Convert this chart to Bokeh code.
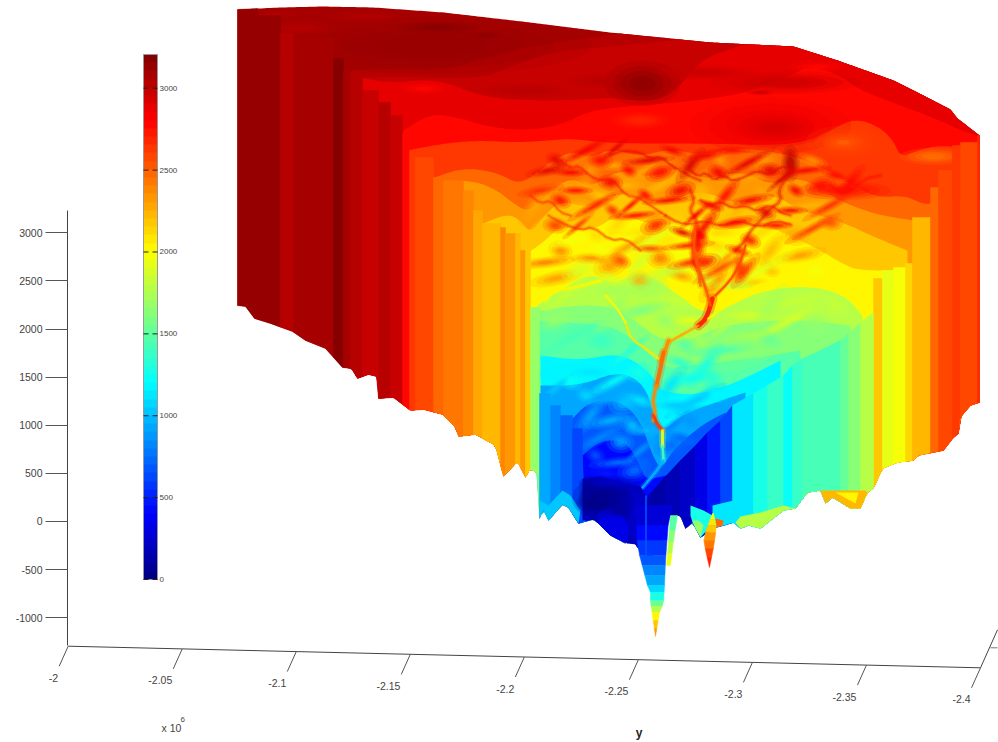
import numpy as np
from bokeh.plotting import figure
from bokeh.models import (ColumnDataSource, Range1d, LinearAxis, FixedTicker, ColorBar,
                          LinearColorMapper)
from bokeh.core.properties import value
from bokeh.embed import file_html
from bokeh.resources import INLINE

# ---------- axis values ----------
z_ticks = [-1000, -500, 0, 500, 1000, 1500, 2000, 2500, 3000]
y_ticks = [-2.0, -2.05, -2.1, -2.15, -2.2, -2.25, -2.3, -2.35, -2.4]
y_labels = ["-2", "-2.05", "-2.1", "-2.15", "-2.2", "-2.25", "-2.3", "-2.35", "-2.4"]
cb_ticks = [0, 500, 1000, 1500, 2000, 2500, 3000]
VMAX = 3206

# ---------- surface, in grid column / row units ----------
sil_top_col = [237, 280, 323, 373, 443, 530, 610, 710, 793, 837, 893, 917, 950, 957, 970, 979]
sil_top_row = [9, 7, 6, 7, 12, 22, 32, 42, 46, 60, 80, 92, 109, 118, 128, 135]
sil_bot_col = [237, 245, 254, 270, 292, 305, 325, 342, 351, 357, 368, 376, 378, 393, 410, 423, 442, 455, 458,
               475, 495, 498, 503, 517, 525, 530, 538, 539, 543, 548, 562, 568, 578, 593, 598, 610, 625, 628,
               637, 648, 664, 668, 680, 685, 692, 700, 715, 723, 733, 740, 748, 760, 783, 795, 807, 820, 825,
               832, 850, 860, 867, 873, 882, 897, 913, 918, 943, 953, 958, 959, 970, 979]
sil_bot_row = [305, 306, 318, 323, 331, 340, 348, 367, 368, 378, 374, 376, 398, 397, 410, 409, 414, 427, 436,
               434, 445, 457, 476, 461, 477, 468, 474, 518, 509, 520, 504, 507, 523, 519, 523, 535, 543, 533,
               547, 560, 540, 515, 515, 528, 522, 537, 527, 525, 522, 528, 525, 528, 510, 508, 492, 490, 503,
               497, 508, 508, 492, 488, 468, 462, 460, 455, 450, 437, 433, 418, 405, 402]

strip_left = [237, 257, 280, 293, 333, 343, 350, 362, 378, 390, 402, 409, 415, 433, 443, 463, 473, 482, 500, 505,
              515, 520, 525, 530, 539, 550, 560, 572,
              873, 882, 893, 905, 912, 930, 938, 952, 960, 977]
strip_right = [257, 280, 293, 333, 343, 350, 362, 378, 390, 402, 409, 415, 433, 443, 463, 473, 482, 500, 505, 515,
               520, 525, 530, 539, 550, 560, 572, 582,
               882, 893, 905, 912, 930, 938, 952, 960, 977, 979]
strip_val = [3110, 3120, 3040, 3105, 3160, 3095, 3010, 2960, 3040, 2990, 2800, 2650, 2600, 2500, 2420, 2380, 2300,
             2230, 2400, 2330, 2250, 2330, 2200, 1680, 950, 850, 720, 620,
             2200, 1930, 1980, 2130, 2230, 2480, 2560, 2620, 2560, 2680]
strip_top = [0, 15, 33, 37, 58, 70, 75, 90, 102, 115, 133, 150, 157, 177, 180, 190, 210, 223, 227, 233, 233, 250,
             250, 307, 393, 405, 415, 428,
             278, 270, 267, 263, 217, 187, 170, 145, 142, 135]

wedge_edge = [648, 665, 680, 695, 707, 720, 732, 753, 767, 783, 792, 802, 820, 840, 848, 860, 873]
wedge_top = [495, 476, 460, 445, 432, 420, 405, 393, 385, 375, 365, 358, 350, 340, 333, 322, 312]
wedge_val = [120, 170, 250, 350, 500, 650, 1150, 1300, 1380, 1230, 1370, 1420, 1420, 1520, 1620, 1800]

base_val = 3100
level_val = [3050, 2980, 2880, 2780, 2650, 2500, 2350, 2200, 2050, 1800, 1650, 1500, 1200, 950, 700, 450]
level_col = [
    [338, 400, 440, 470, 500, 540, 600, 640, 700, 979],
    [345, 400, 460, 490, 500, 520, 560, 610, 650, 690, 760, 979],
    [352, 387, 437, 483, 530, 563, 610, 630, 660, 680, 700, 730, 760, 840, 979],
    [400, 430, 457, 490, 530, 563, 583, 610, 677, 710, 743, 790, 810, 840, 860, 900, 940, 960, 979],
    [407, 443, 477, 517, 550, 570, 610, 710, 777, 810, 830, 853, 877, 893, 900, 917, 937, 963, 979],
    [431, 463, 497, 520, 545, 570, 590, 610, 640, 670, 700, 735, 780, 820, 860, 880, 905, 925, 940, 979],
    [441, 473, 497, 513, 528, 545, 570, 590, 620, 650, 680, 700, 740, 770, 800, 830, 850, 880, 914],
    [480, 507, 520, 530, 545, 560, 590, 620, 660, 700, 735, 770, 800, 820, 850, 870, 907],
    [528, 545, 560, 590, 620, 660, 700, 730, 760, 800, 820, 845, 860, 907],
    [532, 545, 560, 590, 615, 640, 680, 700, 725, 760, 810, 845, 862],
    [532, 570, 610, 635, 660, 690, 720, 770, 810, 850],
    [530, 570, 610, 635, 655, 670, 690, 720, 770, 800],
    [540, 580, 620, 650, 660, 672, 690, 730, 780],
    [540, 580, 620, 645, 655, 665, 680, 720, 745],
    [570, 590, 620, 640, 650, 660, 672, 700, 725],
    [582, 600, 625, 640, 645, 665, 690],
]
level_row = [
    [70, 68, 70, 62, 52, 44, 36, 30, 20, 20],
    [78, 76, 78, 75, 70, 62, 50, 46, 42, 38, 25, 20],
    [75, 83, 78, 97, 100, 100, 97, 100, 100, 85, 60, 48, 40, 40, 100],
    [132, 113, 117, 127, 130, 123, 113, 107, 102, 98, 93, 75, 65, 75, 90, 105, 120, 130, 136],
    [150, 143, 140, 142, 140, 138, 143, 143, 145, 140, 130, 118, 125, 140, 157, 150, 145, 147, 143],
    [178, 167, 172, 185, 165, 150, 158, 148, 156, 148, 155, 147, 152, 165, 190, 197, 195, 205, 200, 200],
    [181, 180, 190, 203, 212, 195, 176, 188, 168, 178, 165, 180, 170, 185, 176, 195, 205, 215, 220],
    [224, 213, 220, 233, 214, 200, 208, 190, 205, 188, 205, 192, 210, 215, 225, 235, 250],
    [252, 240, 225, 232, 212, 228, 214, 232, 222, 240, 250, 265, 270, 270],
    [310, 298, 290, 272, 285, 268, 296, 312, 308, 290, 285, 295, 315],
    [312, 305, 305, 320, 340, 340, 325, 320, 320, 325],
    [320, 322, 325, 340, 360, 368, 365, 362, 355, 350],
    [355, 360, 352, 372, 390, 392, 395, 385, 360],
    [385, 385, 370, 385, 420, 430, 415, 400, 392],
    [420, 400, 400, 420, 450, 470, 450, 425, 412],
    [455, 440, 440, 465, 480, 475, 470],
]

# broad highs and lows on the upper surface
broad_col = [437, 485, 430, 300, 275, 365, 600, 525, 620, 642, 700, 785, 760, 775, 770, 527, 490, 423, 640, 843, 843,
             933, 817, 843, 790, 697, 740]
broad_row = [27, 35, 45, 28, 14, 16, 80, 90, 40, 83, 72, 82, 92, 127, 125, 117, 107, 88, 120, 142, 142,
             156, 66, 190, 163, 243, 267]
broad_w = [45, 18, 170, 40, 25, 40, 35, 48, 30, 40, 60, 80, 15, 40, 85, 50, 40, 24, 30, 40, 20,
           36, 30, 50, 10, 10, 9]
broad_h = [7, 4, 30, 8, 3, 5, 8, 7, 5, 24, 8, 12, 3, 14, 30, 12, 8, 6, 9, 18, 8,
           9, 6, 10, 20, 26, 22]
broad_val = [3170, 3170, 3140, 3040, 3040, 3040, 3030, 3030, 3050, 3160, 3000, 2960, 3000, 3040, 2900, 2900, 2880,
             2780, 2660, 2570, 2480, 2430, 2780, 2800, 3060, 2780, 2680]

# small mottling: (col, row, value)
spot_red = [(548, 170, 2880), (556, 160, 2900), (570, 172, 2820), (585, 150, 2850), (600, 160, 2780), (615, 148, 2880),
            (628, 170, 2800), (648, 160, 2900), (660, 172, 2780), (672, 150, 2850), (690, 165, 2920), (705, 155, 2820),
            (718, 172, 2850), (732, 150, 2800), (748, 162, 2880), (770, 170, 2880), (782, 178, 2950), (795, 190, 2820),
            (805, 170, 2820), (820, 185, 2780), (835, 175, 2800), (850, 182, 2780), (540, 190, 2700), (560, 200, 2760),
            (575, 190, 2800), (595, 205, 2720), (610, 182, 2850), (630, 205, 2760), (645, 195, 2800), (668, 200, 2820),
            (680, 190, 2850), (710, 205, 2850), (725, 195, 2780), (750, 200, 2820), (765, 212, 2900), (790, 210, 2850),
            (830, 205, 2700), (555, 225, 2650), (578, 225, 2620), (612, 210, 2700), (635, 215, 2780), (655, 225, 2720),
            (682, 232, 2880), (705, 225, 2850), (735, 222, 2780), (750, 240, 2720), (775, 225, 2780), (812, 228, 2650),
            (830, 222, 2600), (695, 215, 2850), (700, 235, 2820), (688, 245, 2750), (705, 262, 2720), (738, 250, 2700),
            (745, 270, 2650), (690, 262, 2680), (620, 260, 2600), (650, 248, 2560), (720, 268, 2600)]
spot_orange = [(572, 160, 2400), (590, 170, 2350), (612, 165, 2300), (640, 172, 2300), (665, 163, 2350), (695, 180, 2350),
               (720, 160, 2350), (745, 178, 2300), (765, 160, 2350), (812, 160, 2350), (535, 205, 2300), (555, 190, 2300),
               (585, 185, 2300), (625, 185, 2250), (660, 185, 2250), (700, 190, 2250), (738, 210, 2250), (760, 192, 2300),
               (810, 205, 2250), (575, 210, 2200), (600, 195, 2200), (620, 220, 2150), (650, 210, 2200), (675, 220, 2150),
               (720, 232, 2150), (760, 232, 2150), (795, 235, 2300), (542, 222, 2200), (595, 235, 2150), (640, 232, 2100),
               (665, 240, 2100), (715, 245, 2120), (770, 250, 2250), (800, 255, 2350), (560, 250, 2400), (590, 258, 2400),
               (630, 245, 2350), (660, 258, 2450), (725, 258, 2350), (770, 268, 2300), (545, 262, 2450), (610, 265, 2350),
               (680, 275, 2350), (715, 282, 2400), (555, 278, 2350), (640, 280, 2300), (750, 282, 2200)]
spot_light = [(570, 240, 2000), (600, 248, 2000), (625, 238, 1980), (650, 240, 1950), (680, 252, 2000), (715, 258, 1950),
              (745, 258, 2000), (790, 265, 2050), (580, 270, 1900), (610, 278, 1880), (640, 262, 1900), (665, 272, 1850),
              (705, 278, 1900), (735, 285, 1850), (760, 270, 1950), (815, 270, 2000), (565, 295, 1850), (590, 292, 1800),
              (620, 290, 1750), (650, 288, 1750), (675, 300, 1850), (770, 305, 1750), (800, 300, 1850), (835, 305, 1850),
              (745, 315, 1900), (785, 322, 1900), (815, 322, 1700), (725, 325, 1800), (700, 340, 1750), (750, 335, 1750),
              (555, 320, 1700), (580, 315, 1650), (610, 315, 1650), (640, 310, 1600), (665, 320, 1700), (690, 320, 1950),
              (570, 338, 1450), (600, 340, 1400), (630, 350, 1350), (685, 345, 1500), (720, 350, 1450), (760, 350, 1650),
              (680, 362, 1350), (705, 365, 1300), (735, 365, 1550), (770, 340, 1550)]
spot_blue = [(555, 372, 1200), (570, 380, 1250), (590, 372, 1150), (615, 380, 1250), (638, 372, 1300), (555, 388, 1050),
             (585, 395, 1100), (605, 400, 950), (625, 402, 1050), (640, 400, 1150), (590, 415, 950), (610, 420, 1000),
             (632, 425, 1050), (645, 430, 1000), (600, 437, 850), (620, 442, 950), (640, 450, 900), (595, 455, 700),
             (618, 462, 800), (634, 470, 800), (606, 473, 500), (670, 385, 1150), (690, 378, 1250), (712, 378, 1350),
             (675, 405, 1050), (695, 400, 1050), (715, 392, 1200), (672, 425, 850), (690, 420, 900), (705, 410, 950),
             (670, 445, 750), (682, 438, 750)]
spot_scale_w = [1.5, 0.7, 1.1, 2.0, 0.8, 1.3, 0.6, 1.7, 1.0, 0.9, 1.4]
spot_scale_h = [0.9, 1.2, 0.7, 0.8, 1.3, 0.6, 1.0, 0.7, 1.4, 0.8, 1.1]
spot_angle = [0.2, -0.4, 0.0, 0.5, -0.1, 0.7, -0.6, 0.1, 0.3, -0.3, 0.9]

# veins of high ground through the mottled band
vein_val = [2860, 2880, 2840, 2840, 2900, 2820, 2800, 2720, 2720, 2780]
vein_width = [2.2, 2.2, 2.2, 2.2, 3, 3, 2, 2, 2, 2.5]
vein_col = [[690, 698, 705, 714, 722, 733, 745, 757, 770, 780, 790],
            [610, 622, 640, 650, 660, 672, 680, 690, 700],
            [700, 710, 720, 732, 745, 757, 770, 780, 790],
            [665, 677, 690, 705, 720, 738, 760, 775, 790],
            [790, 788, 793, 784, 778, 781, 768, 760, 750, 745, 735],
            [690, 694, 689, 696, 697, 692, 693, 698, 700],
            [560, 570, 578, 590, 600, 612, 625, 638, 650, 665],
            [530, 540, 550, 560, 570],
            [548, 560, 580, 592, 610, 625, 640],
            [830, 840, 850, 865, 880]]
vein_row = [[170, 176, 172, 180, 174, 181, 176, 170, 175, 166, 168],
            [155, 150, 152, 158, 156, 166, 170, 176, 180],
            [200, 205, 201, 208, 205, 211, 204, 212, 215],
            [215, 222, 224, 220, 226, 220, 227, 220, 224],
            [153, 162, 170, 180, 190, 200, 210, 220, 230, 240, 250],
            [190, 200, 210, 218, 240, 250, 262, 272, 285],
            [160, 168, 165, 176, 180, 178, 195, 197, 205, 215],
            [195, 203, 200, 212, 215],
            [215, 222, 230, 226, 240, 238, 250],
            [185, 192, 190, 178, 175]]

ridge_val = [2750, 2300, 2400, 2500, 2400, 2650, 1950, 1450, 1000, 2100, 2050, 2550, 2600, 2050, 2050]
ridge_width = [4.5, 2, 3.5, 4, 3, 3, 3, 2.5, 2.5, 1.6, 2.5, 2.5, 2, 2.5, 1.6]
ridge_col = [[712, 706, 698], [698, 680, 668], [668, 664, 660], [663, 660, 656], [656, 652, 655, 653],
             [653, 657, 662], [662, 662], [662, 663], [663, 655, 642], [625, 630, 645, 658],
             [708, 725, 742, 760, 800, 835], [710, 706, 697, 693, 695], [715, 730, 740, 745],
             [545, 552, 575, 600], [625, 617, 605]]
ridge_row = [[298, 318, 325], [325, 335, 342], [340, 352, 360], [352, 368, 385], [385, 400, 412, 420],
             [415, 424, 430], [430, 445], [445, 460], [460, 472, 487], [322, 338, 348, 358],
             [318, 305, 295, 283, 278, 285], [305, 290, 265, 250, 225], [295, 280, 262, 245],
             [300, 290, 287, 280], [322, 308, 295]]

funnel_val = [170, 230, 330, 1050, 1800, 1300, 1700, 1150, 2500, 2250, 2050]
funnel_col = [[582, 600, 620, 640, 648, 645, 627, 610, 598, 593, 582],
              [628, 647, 647, 637, 628],
              [597, 615, 628, 627, 610, 598],
              [539, 548, 562, 570, 580, 578, 568, 562, 548, 543, 539],
              [735, 740, 760, 783, 795, 783, 760, 748, 740],
              [690, 703, 712, 706, 700, 692, 690],
              [692, 698, 703, 700, 695],
              [712, 733, 733, 723, 715, 712],
              [715, 723, 722, 716],
              [820, 865, 867, 860, 850, 832, 825],
              [835, 858, 855]]
funnel_row = [[478, 476, 482, 486, 500, 545, 543, 535, 523, 519, 520],
              [486, 497, 548, 547, 533],
              [512, 505, 525, 543, 535, 523],
              [500, 505, 490, 495, 510, 523, 507, 504, 520, 509, 518],
              [522, 516, 512, 505, 508, 510, 528, 525, 528],
              [505, 510, 515, 530, 537, 522, 515],
              [520, 520, 525, 537, 528],
              [505, 500, 522, 525, 527, 515],
              [518, 520, 525, 527],
              [490, 490, 492, 508, 508, 497, 503],
              [492, 492, 503]]
deep_col = [600, 592, 612, 618, 588, 625, 612]
deep_row = [498, 503, 496, 510, 490, 500, 482]
deep_w = [30, 18, 14, 12, 10, 10, 36]
deep_h = [22, 10, 14, 8, 16, 20, 8]
deep_val = [40, 10, 60, 100, 100, 130, 250]

spike_rows = [[505, 525, 540, 555, 565, 575, 585, 592, 600, 606, 612, 620, 628, 636],
              [515, 530, 542, 553, 565],
              [513, 519, 525, 532, 540, 548, 557, 567]]
spike_vals = [[300, 420, 560, 700, 820, 950, 1100, 1300, 1550, 1800, 2050, 2200, 2350],
              [1500, 1650, 1800, 1950],
              [2000, 2100, 2200, 2320, 2450, 2560, 2680]]
spike_left_col = [[635, 637, 647, 650, 650, 652, 655], [670, 668, 666], [712, 703, 705, 709]]
spike_left_row = [[505, 547, 585, 590, 602, 615, 636], [515, 540, 565], [513, 537, 550, 567]]
spike_right_col = [[672, 668, 665, 664, 663, 659, 655], [677, 673, 670], [713, 716, 713, 709]]
spike_right_row = [[505, 520, 560, 585, 603, 612, 636], [515, 540, 565], [513, 527, 547, 567]]

thin_col = [645.5, 645.5]
thin_row = [495, 557]


# ---------- helpers ----------
def jet(n=64):
    out = []
    for i in range(n):
        x = (i + 0.5) / n
        r = np.clip(min(4 * x - 1.5, -4 * x + 4.5), 0, 1)
        g = np.clip(min(4 * x - 0.5, -4 * x + 3.5), 0, 1)
        b = np.clip(min(4 * x + 0.5, -4 * x + 2.5), 0, 1)
        out.append("#%02x%02x%02x" % (int(r * 255), int(g * 255), int(b * 255)))
    return out


def top_at(c):
    return np.interp(c, sil_top_col, sil_top_row)


def bot_at(c):
    return np.interp(c, sil_bot_col, sil_bot_row)


def chaikin(c, r, n=3):
    pts = np.column_stack([c, r]).astype(float)
    for _ in range(n):
        q = 0.75 * pts[:-1] + 0.25 * pts[1:]
        s = 0.25 * pts[:-1] + 0.75 * pts[1:]
        mid = np.empty((2 * len(q), 2))
        mid[0::2] = q
        mid[1::2] = s
        pts = np.vstack([pts[0], mid, pts[-1]])
    return pts[:, 0], pts[:, 1]


def densify(c, r, step=2.0):
    d = np.r_[0, np.cumsum(np.hypot(np.diff(c), np.diff(r)))]
    t = np.arange(0, d[-1] + step, step)
    return np.interp(t, d, c), np.interp(t, d, r)


def level_poly(c, r):
    cs, rs = chaikin(c, r)
    cs, rs = densify(cs, rs)
    cs = np.clip(cs, 237, 979)
    rs = np.minimum(np.maximum(rs, top_at(cs)), bot_at(cs))
    back = np.arange(cs[-1], cs[0], -3.0)
    return list(cs) + list(back), list(rs) + list(bot_at(back))


def strip_poly(l, rt, top_l, top_r):
    inner = [c for c in sil_bot_col if l < c < rt]
    xs = [l, rt, rt] + inner[::-1] + [l]
    ys = [max(top_l, top_at(l)), max(top_r, top_at(rt)), bot_at(rt)] + [bot_at(c) for c in inner[::-1]] + [bot_at(l)]
    return xs, ys


def col_of(y):
    return 67.7 + (-2.0 - np.asarray(y)) / 0.4 * 912.3


def row_of(y):
    return 645.7 + (-2.0 - np.asarray(y)) / 0.4 * 21.6


JET = jet()
mapper = LinearColorMapper(palette=JET, low=0, high=VMAX)
cmap = {"field": "v", "transform": mapper}


def soft_blobs(fig, col, row, w, h, val, layers, angle=None):
    w = np.asarray(w, float)
    h = np.asarray(h, float)
    ang = list(angle) if angle is not None else [0.0] * len(w)
    for scale, alpha in layers:
        src = ColumnDataSource(dict(x=list(col), y=list(row), w=list(w * scale), h=list(h * scale), v=list(val), a=ang))
        fig.ellipse("x", "y", width="w", height="h", angle="a", source=src, fill_color=cmap, fill_alpha=alpha,
                    line_color=None)


def lines(fig, cols, rows, vals, widths, a_wide, a_core, smooth):
    xs, ys = zip(*[chaikin(c, r, smooth) if len(c) > 2 else (np.array(c, float), np.array(r, float))
                   for c, r in zip(cols, rows)])
    src = ColumnDataSource(dict(x=[list(a) for a in xs], y=[list(a) for a in ys], v=vals, w=widths,
                                w2=[a * 2.2 for a in widths]))
    fig.multi_line("x", "y", source=src, line_color=cmap, line_width="w2", line_alpha=a_wide, line_cap="round",
                   line_join="round")
    fig.multi_line("x", "y", source=src, line_color=cmap, line_width="w", line_alpha=a_core, line_cap="round",
                   line_join="round")


# ---------- figure ----------
PX_PER_Z = 0.0962
z_low = 3000 - (742 - 232.3) / PX_PER_Z
z_high = 3000 + 232.3 / PX_PER_Z
p = figure(width=998, height=742, x_range=Range1d(0, 998), y_range=Range1d(742, 0),
           output_backend="svg", toolbar_location=None, x_axis_location=None, y_axis_location=None,
           min_border_left=0, min_border_right=0, min_border_top=0, min_border_bottom=0)
p.outline_line_color = None
p.grid.visible = False
p.background_fill_color = "white"
p.extra_y_ranges["z"] = Range1d(z_low, z_high)
zaxis = LinearAxis(y_range_name="z", ticker=FixedTicker(ticks=z_ticks), bounds=(-1290, 3232), fixed_location=67,
                   major_label_overrides={t: str(t) for t in z_ticks})
zaxis.major_tick_out = 22
zaxis.major_tick_in = 0
zaxis.minor_tick_out = 0
zaxis.minor_tick_in = 0
zaxis.major_label_standoff = 3
zaxis.axis_line_color = "#444444"
zaxis.major_tick_line_color = "#555555"
zaxis.major_label_text_color = "#444444"
zaxis.major_label_text_font = "Liberation Sans"
zaxis.major_label_text_font_size = "10.5px"
p.add_layout(zaxis, "left")

# base silhouette
top_c = np.arange(237, 980, 3.0)
base_x = list(top_c) + [979] + sil_bot_col[::-1]
base_y = list(top_at(top_c)) + [135] + sil_bot_row[::-1]
p.patch(base_x, base_y, fill_color=JET[int(base_val / VMAX * 64)], line_color=None)

# nested surface levels
lx, ly = zip(*[level_poly(c, r) for c, r in zip(level_col, level_row)])
p.patches("x", "y", source=ColumnDataSource(dict(x=list(lx), y=list(ly), v=level_val)),
          fill_color=cmap, line_color=None)

SOFT = [(1.9, 0.18), (1.45, 0.25), (1.05, 0.35), (0.65, 0.5)]
SPOT = [(1.8, 0.2), (1.3, 0.28), (0.85, 0.4), (0.45, 0.5)]
soft_blobs(p, broad_col, broad_row, broad_w, broad_h, broad_val, SOFT)

# mottling
for group, gw, gh in [(spot_orange, 20, 9), (spot_light, 22, 9), (spot_blue, 20, 9), (spot_red, 18, 7)]:
    gc, gr, gv = zip(*group)
    n = len(gc)
    sw = [gw * spot_scale_w[i % len(spot_scale_w)] for i in range(n)]
    sh = [gh * spot_scale_h[i % len(spot_scale_h)] for i in range(n)]
    sa = [spot_angle[i % len(spot_angle)] for i in range(n)]
    soft_blobs(p, gc, gr, sw, sh, gv, SPOT, sa)

lines(p, vein_col, vein_row, vein_val, vein_width, 0.14, 0.4, 1)
lines(p, ridge_col, ridge_row, ridge_val, ridge_width, 0.3, 0.9, 2)

# wall strips
sx, sy = zip(*[strip_poly(l, rt, t, t) for l, rt, t in zip(strip_left, strip_right, strip_top)])
p.patches("x", "y", source=ColumnDataSource(dict(x=list(sx), y=list(sy), v=strip_val)),
          fill_color=cmap, line_color=cmap, line_width=0.5)

# strips with sloping top edge, right of the centre
wx, wy = zip(*[strip_poly(wedge_edge[i], wedge_edge[i + 1], wedge_top[i], wedge_top[i + 1])
               for i in range(len(wedge_val))])
p.patches("x", "y", source=ColumnDataSource(dict(x=list(wx), y=list(wy), v=wedge_val)),
          fill_color=cmap, line_color=cmap, line_width=0.5)

# deep part of the funnel and fringes
p.patches("x", "y", source=ColumnDataSource(dict(x=funnel_col, y=funnel_row, v=funnel_val)),
          fill_color=cmap, line_color=None)
soft_blobs(p, deep_col, deep_row, deep_w, deep_h, deep_val, SOFT)

# spikes under the surface
spx, spy, spv = [], [], []
for rows, vals, lc, lr, rc, rr in zip(spike_rows, spike_vals, spike_left_col, spike_left_row,
                                      spike_right_col, spike_right_row):
    for i, v in enumerate(vals):
        r0, r1 = rows[i], rows[i + 1]
        spx.append([float(np.interp(r0, lr, lc)), float(np.interp(r0, rr, rc)),
                    float(np.interp(r1, rr, rc)), float(np.interp(r1, lr, lc))])
        spy.append([r0, r0, r1, r1])
        spv.append(v)
p.patches("x", "y", source=ColumnDataSource(dict(x=spx, y=spy, v=spv)),
          fill_color=cmap, line_color=cmap, line_width=0.5)
p.line(thin_col, thin_row, line_color=JET[int(700 / VMAX * 64)], line_width=1.5)

# bottom (y) axis
AX = "#444444"
p.line(col_of([y_ticks[0], y_ticks[-1]]), row_of([y_ticks[0], y_ticks[-1]]), line_color=AX, line_width=1)
tc, tr = col_of(y_ticks), row_of(y_ticks)
p.segment(tc, tr, tc - 9, tr + 20, line_color="#555555", line_width=1)
p.text(tc - 10, tr + 31.5, text=y_labels, text_font=value("Liberation Sans"), text_font_size="10.5px",
       text_color=AX, text_align="right", text_baseline="middle")
p.text([161], [727], text=["x 10"], text_font=value("Liberation Sans"), text_font_size="10.5px",
       text_color=AX, text_align="left", text_baseline="middle")
p.text([180], [719], text=["6"], text_font=value("Liberation Sans"), text_font_size="8px",
       text_color=AX, text_align="left", text_baseline="middle")
p.text([638.5], [732], text=["y"], text_font=value("Liberation Sans"), text_font_size="12px",
       text_font_style="bold", text_color="#222222", text_align="center", text_baseline="middle")
# right-hand edge of the box with its tick
p.line([tc[-1], tc[-1] + 17], [tr[-1], tr[-1] - 38], line_color=AX, line_width=1)
p.line([tc[-1] + 10, tc[-1] + 17], [tr[-1] - 20, tr[-1] - 20], line_color="#777777", line_width=1)

# colour bar
cb = ColorBar(color_mapper=mapper, ticker=FixedTicker(ticks=cb_ticks), location=(143, 742 - 579),
              width=14, height=525, margin=0, padding=0, major_tick_line_color=None, minor_tick_line_color=None,
              bar_line_color="#999999", bar_line_width=1, label_standoff=2,
              major_label_text_font="Liberation Sans", major_label_text_font_size="8px",
              major_label_text_color="#444444")
p.add_layout(cb, "center")
cbr = 579 - np.array(cb_ticks) * 525 / VMAX
p.segment([143] * 7, cbr, [148] * 7, cbr, line_color="#222222", line_width=1, level="overlay")
p.segment([152] * 7, cbr, [157] * 7, cbr, line_color="#222222", line_width=1, level="overlay")

open("out.html", "w").write(file_html(p, INLINE))
